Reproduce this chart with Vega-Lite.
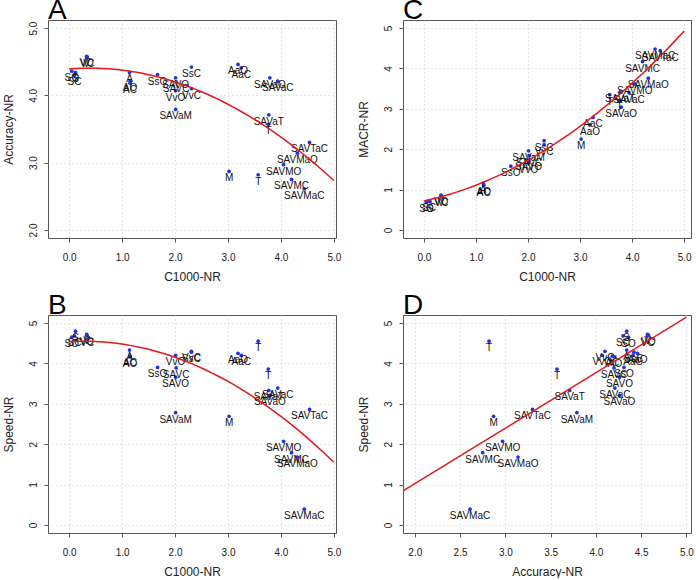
{
  "$schema": "https://vega.github.io/schema/vega-lite/v6.json",
  "padding": {"left": 1, "top": -4, "right": 0, "bottom": 0},
  "background": "white",
  "data": {"values": [
    {"label": "S", "c1000": 0.12, "acc": 4.34, "macr": 0.70, "speed": 4.80},
    {"label": "SO", "c1000": 0.05, "acc": 4.36, "macr": 0.68, "speed": 4.65},
    {"label": "SC", "c1000": 0.10, "acc": 4.30, "macr": 0.72, "speed": 4.68},
    {"label": "V", "c1000": 0.33, "acc": 4.57, "macr": 0.85, "speed": 4.72},
    {"label": "VO", "c1000": 0.33, "acc": 4.58, "macr": 0.86, "speed": 4.70},
    {"label": "VC", "c1000": 0.34, "acc": 4.57, "macr": 0.84, "speed": 4.68},
    {"label": "A", "c1000": 1.14, "acc": 4.34, "macr": 1.16, "speed": 4.33},
    {"label": "AO", "c1000": 1.15, "acc": 4.21, "macr": 1.12, "speed": 4.16},
    {"label": "AC", "c1000": 1.15, "acc": 4.18, "macr": 1.10, "speed": 4.18},
    {"label": "SsO", "c1000": 1.67, "acc": 4.31, "macr": 1.58, "speed": 3.90},
    {"label": "SsC", "c1000": 2.31, "acc": 4.42, "macr": 2.21, "speed": 4.28},
    {"label": "SAVO", "c1000": 2.01, "acc": 4.26, "macr": 1.72, "speed": 3.66},
    {"label": "SAVC", "c1000": 2.02, "acc": 4.20, "macr": 1.84, "speed": 3.89},
    {"label": "VvO", "c1000": 2.01, "acc": 4.07, "macr": 1.66, "speed": 4.20},
    {"label": "VvC", "c1000": 2.31, "acc": 4.10, "macr": 2.11, "speed": 4.30},
    {"label": "SAVaM", "c1000": 2.01, "acc": 3.79, "macr": 1.96, "speed": 2.78},
    {"label": "AaO", "c1000": 3.19, "acc": 4.46, "macr": 2.61, "speed": 4.25},
    {"label": "AaC", "c1000": 3.25, "acc": 4.41, "macr": 2.79, "speed": 4.20},
    {"label": "M", "c1000": 3.02, "acc": 2.87, "macr": 2.25, "speed": 2.69},
    {"label": "T", "c1000": 3.57, "acc": 2.82, "macr": 3.35, "speed": 4.55},
    {"label": "T", "c1000": 3.76, "acc": 3.57, "macr": 3.21, "speed": 3.86},
    {"label": "SAVaT", "c1000": 3.77, "acc": 3.71, "macr": 3.42, "speed": 3.33},
    {"label": "SAVaO", "c1000": 3.79, "acc": 4.26, "macr": 3.04, "speed": 3.21},
    {"label": "SAVaC", "c1000": 3.94, "acc": 4.21, "macr": 3.40, "speed": 3.39},
    {"label": "SAVTaC", "c1000": 4.54, "acc": 3.30, "macr": 4.44, "speed": 2.86},
    {"label": "SAVMaO", "c1000": 4.31, "acc": 3.14, "macr": 3.76, "speed": 1.68},
    {"label": "SAVMO", "c1000": 4.05, "acc": 2.97, "macr": 3.62, "speed": 2.07},
    {"label": "SAVMC", "c1000": 4.20, "acc": 2.75, "macr": 4.17, "speed": 1.79},
    {"label": "SAVMaC", "c1000": 4.44, "acc": 2.61, "macr": 4.48, "speed": 0.39}
  ]},
  "columns": 2,
  "spacing": {"row": 77, "column": 67},
  "bounds": "flush",
  "concat": [
    {
      "title": {"text": "A"},
      "width": 288, "height": 218,
      "layer": [
        {"mark": {"type": "circle", "size": 14, "color": "#2233dd", "opacity": 1},
         "encoding": {
           "x": {"field": "c1000", "type": "quantitative", "scale": {"domain": [-0.4, 5.04], "nice": false, "zero": false}, "axis": {"values": [0,1,2,3,4,5], "title": "C1000-NR"}},
           "y": {"field": "acc", "type": "quantitative", "scale": {"domain": [1.88, 5.12], "nice": false, "zero": false}, "axis": {"values": [2,2.5,3,3.5,4,4.5,5], "format": ".1f", "title": "Accuracy-NR"}}}},
        {"mark": {"type": "text", "dy": 7, "fontSize": 10, "color": "#111"},
         "encoding": {"x": {"field": "c1000", "type": "quantitative"}, "y": {"field": "acc", "type": "quantitative"}, "text": {"field": "label"}}},
        {"transform": [{"regression": "acc", "on": "c1000", "method": "poly", "order": 2, "extent": [0, 5]}],
         "mark": {"type": "line", "color": "#e3191c", "strokeWidth": 1.5},
         "encoding": {"x": {"field": "c1000", "type": "quantitative"}, "y": {"field": "acc", "type": "quantitative"}}}
      ]
    },
    {
      "title": {"text": "C"},
      "width": 288, "height": 218,
      "layer": [
        {"mark": {"type": "circle", "size": 14, "color": "#2233dd", "opacity": 1},
         "encoding": {
           "x": {"field": "c1000", "type": "quantitative", "scale": {"domain": [-0.4, 5.13], "nice": false, "zero": false}, "axis": {"values": [0,1,2,3,4,5], "title": "C1000-NR"}},
           "y": {"field": "macr", "type": "quantitative", "scale": {"domain": [-0.2, 5.2], "nice": false, "zero": false}, "axis": {"values": [0,1,2,3,4,5], "title": "MACR-NR"}}}},
        {"mark": {"type": "text", "dy": 7, "fontSize": 10, "color": "#111"},
         "encoding": {"x": {"field": "c1000", "type": "quantitative"}, "y": {"field": "macr", "type": "quantitative"}, "text": {"field": "label"}}},
        {"transform": [{"regression": "macr", "on": "c1000", "method": "poly", "order": 2, "extent": [0, 5]}],
         "mark": {"type": "line", "color": "#e3191c", "strokeWidth": 1.5},
         "encoding": {"x": {"field": "c1000", "type": "quantitative"}, "y": {"field": "macr", "type": "quantitative"}}}
      ]
    },
    {
      "title": {"text": "B"},
      "width": 288, "height": 218,
      "layer": [
        {"mark": {"type": "circle", "size": 14, "color": "#2233dd", "opacity": 1},
         "encoding": {
           "x": {"field": "c1000", "type": "quantitative", "scale": {"domain": [-0.4, 5.04], "nice": false, "zero": false}, "axis": {"values": [0,1,2,3,4,5], "title": "C1000-NR"}},
           "y": {"field": "speed", "type": "quantitative", "scale": {"domain": [-0.2, 5.2], "nice": false, "zero": false}, "axis": {"values": [0,1,2,3,4,5], "title": "Speed-NR"}}}},
        {"mark": {"type": "text", "dy": 7, "fontSize": 10, "color": "#111"},
         "encoding": {"x": {"field": "c1000", "type": "quantitative"}, "y": {"field": "speed", "type": "quantitative"}, "text": {"field": "label"}}},
        {"transform": [{"regression": "speed", "on": "c1000", "method": "poly", "order": 2, "extent": [0, 5]}],
         "mark": {"type": "line", "color": "#e3191c", "strokeWidth": 1.5},
         "encoding": {"x": {"field": "c1000", "type": "quantitative"}, "y": {"field": "speed", "type": "quantitative"}}}
      ]
    },
    {
      "title": {"text": "D"},
      "width": 288, "height": 218,
      "layer": [
        {"mark": {"type": "circle", "size": 14, "color": "#2233dd", "opacity": 1},
         "encoding": {
           "x": {"field": "acc", "type": "quantitative", "scale": {"domain": [1.87, 5.05], "nice": false, "zero": false}, "axis": {"values": [2,2.5,3,3.5,4,4.5,5], "format": ".1f", "title": "Accuracy-NR"}},
           "y": {"field": "speed", "type": "quantitative", "scale": {"domain": [-0.2, 5.2], "nice": false, "zero": false}, "axis": {"values": [0,1,2,3,4,5], "title": "Speed-NR"}}}},
        {"mark": {"type": "text", "dy": 7, "fontSize": 10, "color": "#111"},
         "encoding": {"x": {"field": "acc", "type": "quantitative"}, "y": {"field": "speed", "type": "quantitative"}, "text": {"field": "label"}}},
        {"transform": [{"regression": "speed", "on": "acc", "method": "linear", "extent": [1.87, 5.0]}],
         "mark": {"type": "line", "color": "#e3191c", "strokeWidth": 1.5, "clip": true},
         "encoding": {"x": {"field": "acc", "type": "quantitative"}, "y": {"field": "speed", "type": "quantitative"}}}
      ]
    }
  ],
  "config": {
    "font": "Liberation Sans",
    "view": {"stroke": "#555", "strokeWidth": 1},
    "axis": {
      "domain": false, "grid": true, "gridColor": "#cfcfcf", "gridDash": [1, 3],
      "tickSize": 4, "tickColor": "#555",
      "labelFont": "Liberation Sans", "labelFontSize": 10, "labelColor": "#222",
      "titleFont": "Liberation Sans", "titleFontSize": 12, "titleFontWeight": "normal", "titleColor": "#222"
    },
    "axisX": {"labelPadding": 10, "titlePadding": 9},
    "axisY": {"labelAngle": 270, "labelAlign": "center", "labelBaseline": "bottom", "labelPadding": 6, "titlePadding": 13},
    "title": {"fontSize": 28, "fontWeight": "normal", "anchor": "start", "frame": "group", "baseline": "alphabetic", "offset": -5, "color": "#000", "font": "Liberation Sans"}
  }
}
